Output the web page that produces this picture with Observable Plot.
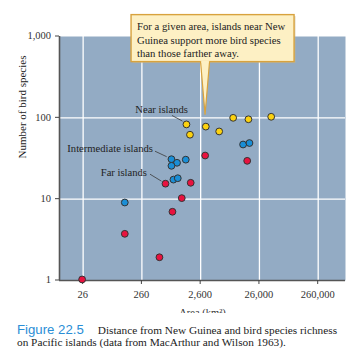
<!DOCTYPE html>
<html>
<head>
<meta charset="utf-8">
<script src="https://cdn.jsdelivr.net/npm/d3@7"></script>
<script src="https://cdn.jsdelivr.net/npm/@observablehq/plot@0.6"></script>
<style>
  html, body { margin: 0; padding: 0; background: white; }
  #wrap { position: relative; width: 363px; }
  .cap { position: relative; background: white; margin: 0; padding: 11px 0 0 17px; font-family: "Liberation Serif", serif; font-size: 11.3px; line-height: 12px; color: #222; }
  .fig { font-family: "Liberation Sans", sans-serif; color: #2a8ed6; font-size: 13.2px; line-height: 12px; margin-right: 14px; }
</style>
</head>
<body>
<div id="wrap"></div>
<script>
// ---- data ----
const nearArea = [1490, 1710, 3180, 5370, 9290, 16900, 41200];
const nearSpecies = [83, 62, 78, 68, 100, 96, 103];

const interArea = [133, 828, 1030, 828, 1450, 895, 1060, 13700, 17600];
const interSpecies = [9.1, 31, 28, 25.7, 30.6, 17.4, 18.1, 47, 49];

const farArea = [25, 133, 517, 655, 861, 1240, 1760, 3100, 16100];
const farSpecies = [1.03, 3.75, 1.93, 15.5, 7, 10.3, 15.9, 34.4, 29.6];

const xTicks = [26, 260, 2600, 26000, 260000];
const yTicks = [1, 10, 100, 1000];
const xDomain = [10.3, 758000];
const yDomain = [1, 1000];

const groupNames = ["Near islands", "Intermediate islands", "Far islands"];
const calloutText = ["For a given area, islands near New", "Guinea support more bird species", "than those farther away."];
const calloutTarget = [3150, 108];

// ---- build table ----
const rows = [];
nearArea.forEach((a, i) => rows.push({area: a, species: nearSpecies[i], group: "near"}));
interArea.forEach((a, i) => rows.push({area: a, species: interSpecies[i], group: "inter"}));
farArea.forEach((a, i) => rows.push({area: a, species: farSpecies[i], group: "far"}));

const colors = {near: "#fcd20f", inter: "#1a8ed6", far: "#e8123f"};
const fmt = d3.format(",");

const labelAnchors = [
  {name: groupNames[0], x: nearArea[0], y: nearSpecies[0], tdx: 2, tdy: -14.5, l: [-14, -8.5, -3.5, -2.8]},
  {name: groupNames[1], x: interArea[1], y: interSpecies[1], tdx: -18, tdy: -10.5, l: [-16, -7.5, -4.3, -2]},
  {name: groupNames[2], x: farArea[3], y: farSpecies[3], tdx: -18, tdy: -11, l: [-15, -9, -3.5, -2]}
];

const FONT = "Liberation Serif, serif";

function axes(index, scales, values, dimensions) {
  const g = d3.create("svg:g");
  const {marginLeft, marginBottom, height} = dimensions;
  const y0 = height - marginBottom;
  for (const t of xTicks) {
    const px = scales.x(t);
    g.append("line").attr("x1", px).attr("x2", px).attr("y1", y0).attr("y2", y0 + 4)
      .attr("stroke", "#444").attr("stroke-width", 1);
    g.append("text").attr("x", px).attr("y", y0 + 14.5).attr("dy", "0.32em")
      .attr("text-anchor", "middle").attr("font-family", FONT).attr("font-size", 10.5)
      .attr("fill", "#333").text(fmt(t));
  }
  for (const t of yTicks) {
    const py = scales.y(t);
    g.append("line").attr("x1", marginLeft - 4).attr("x2", marginLeft).attr("y1", py).attr("y2", py)
      .attr("stroke", "#444").attr("stroke-width", 1);
    g.append("text").attr("x", marginLeft - 8).attr("y", py).attr("dy", "0.32em")
      .attr("text-anchor", "end").attr("font-family", FONT).attr("font-size", 10.5)
      .attr("fill", "#333").text(fmt(t));
  }
  return g.node();
}

function annotations(index, scales) {
  const g = d3.create("svg:g");
  for (const a of labelAnchors) {
    const px = scales.x(a.x), py = scales.y(a.y);
    g.append("line")
      .attr("x1", px + a.l[0]).attr("y1", py + a.l[1])
      .attr("x2", px + a.l[2]).attr("y2", py + a.l[3])
      .attr("stroke", "#3a3a3a").attr("stroke-width", 0.8);
    g.append("text")
      .attr("x", px + a.tdx).attr("y", py + a.tdy)
      .attr("dy", "0.32em")
      .attr("text-anchor", "end")
      .attr("font-family", FONT).attr("font-size", 10.6)
      .attr("fill", "#222")
      .text(a.name);
  }
  const tx = scales.x(calloutTarget[0]), ty = scales.y(calloutTarget[1]);
  const bx = tx - 74, by = ty - 100, bw = 163, bh = 47;
  const fill = "#fdf0c4", stroke = "#d8a23e";
  g.append("rect").attr("x", bx + 1.5).attr("y", by + 1.5).attr("width", bw).attr("height", bh)
    .attr("fill", "#c9b98f").attr("opacity", 0.5);
  g.append("rect").attr("x", bx).attr("y", by).attr("width", bw).attr("height", bh)
    .attr("fill", fill).attr("stroke", stroke).attr("stroke-width", 1.4);
  g.append("path")
    .attr("d", `M${tx - 4.5},${by + bh} L${tx},${ty} L${tx + 4.5},${by + bh}`)
    .attr("fill", fill).attr("stroke", stroke).attr("stroke-width", 1.2);
  g.append("line").attr("x1", tx - 3.8).attr("x2", tx + 3.8)
    .attr("y1", by + bh).attr("y2", by + bh).attr("stroke", fill).attr("stroke-width", 2);
  calloutText.forEach((t, i) => {
    g.append("text")
      .attr("x", bx + 6).attr("y", by + 12 + i * 13.5)
      .attr("dy", "0.32em")
      .attr("text-anchor", "start")
      .attr("font-family", FONT).attr("font-size", 10.7)
      .attr("fill", "#222")
      .text(t);
  });
  return g.node();
}

const chart = Plot.plot({
  width: 363,
  height: 313,
  marginLeft: 59,
  marginRight: 18,
  marginTop: 36,
  marginBottom: 33,
  style: {fontFamily: FONT, fontSize: "10px", color: "#333", background: "transparent", overflow: "visible"},
  x: {type: "log", domain: xDomain, axis: null},
  y: {type: "log", domain: yDomain, axis: null},
  marks: [
    Plot.frame({fill: "#93abc4", stroke: "none"}),
    Plot.ruleX(xTicks, {stroke: "white", strokeWidth: 1.3}),
    Plot.ruleY(yTicks.slice(1, 3), {stroke: "white", strokeWidth: 1.3}),
    Plot.ruleX([xDomain[0]], {stroke: "#555", strokeWidth: 1.6}),
    Plot.ruleY([yDomain[0]], {stroke: "#555", strokeWidth: 1.6}),
    axes,
    Plot.dot(rows, {x: "area", y: "species", r: 3.4, fill: d => colors[d.group], stroke: "#333", strokeWidth: 1}),
    Plot.text(["Area (km²)"], {frameAnchor: "bottom", dy: 32, lineAnchor: "middle", fontSize: 10.5, fill: "#333"}),
    Plot.text(["Number of bird species"], {frameAnchor: "left", dx: -37, rotate: -90, lineAnchor: "middle", fontSize: 11, fill: "#222"}),
    annotations
  ]
});

const wrap = document.getElementById("wrap");
wrap.appendChild(chart);
const cap = document.createElement("div");
cap.className = "cap";
cap.innerHTML = '<span class="fig">Figure 22.5</span>Distance from New Guinea and bird species richness<br>on Pacific islands (data from MacArthur and Wilson 1963).';
wrap.appendChild(cap);
</script>
</body>
</html>
